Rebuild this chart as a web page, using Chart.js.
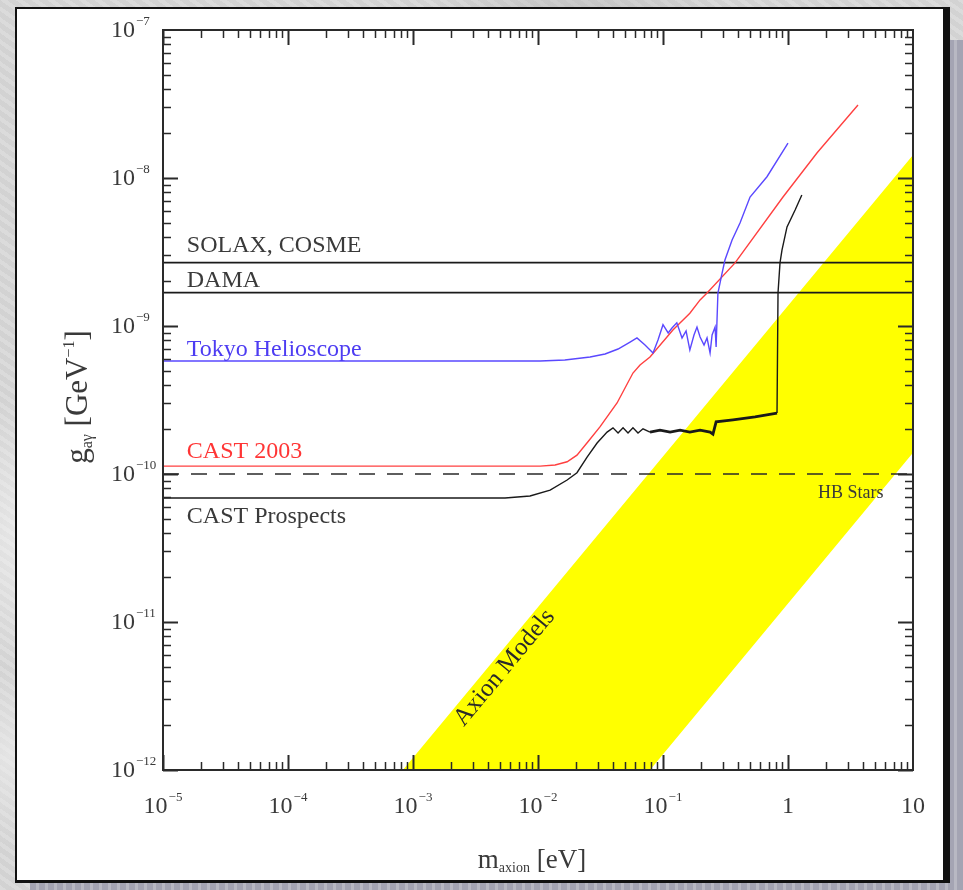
<!DOCTYPE html>
<html>
<head>
<meta charset="utf-8">
<title>Axion-photon coupling limits</title>
<script src="https://cdn.jsdelivr.net/npm/chart.js@4.4.1/dist/chart.umd.min.js"></script>
<style>
  html, body { margin: 0; padding: 0; }
  body {
    width: 963px; height: 890px; position: relative; overflow: hidden;
    background-color: #d6d6d6;
    background-image:
      radial-gradient(ellipse 120px 60px at 15% 20%, rgba(255,255,255,0.55), rgba(255,255,255,0)),
      radial-gradient(ellipse 90px 140px at 3% 60%, rgba(255,255,255,0.5), rgba(255,255,255,0)),
      radial-gradient(ellipse 60px 90px at 1% 85%, rgba(240,240,240,0.6), rgba(240,240,240,0)),
      radial-gradient(ellipse 160px 50px at 60% 2%, rgba(170,170,170,0.45), rgba(170,170,170,0)),
      repeating-linear-gradient(35deg, rgba(255,255,255,0.12) 0 4px, rgba(170,170,170,0.08) 4px 9px);
  }
  #shadow {
    position: absolute; left: 30px; top: 40px; width: 933px; height: 850px;
    background: repeating-linear-gradient(90deg, #a4a4b3 0 6px, #b8b8c3 6px 9px);
  }
  #panel {
    position: absolute; left: 15px; top: 7px; width: 926px; height: 871px;
    background: #fff; border-style: solid; border-color: #111;
    border-width: 2px 7px 3px 2px;
  }
  #chart { position: absolute; left: 0; top: 0; }
</style>
</head>
<body>
<div id="shadow"></div>
<div id="panel"></div>
<canvas id="chart" width="963" height="890"></canvas>
<script>
// axis ticks
const massTicks = [1e-5, 1e-4, 1e-3, 1e-2, 1e-1, 1, 10]
const massTickBase = ['10', '10', '10', '10', '10', '1', '10']
const massTickExp = ['\u22125', '\u22124', '\u22123', '\u22122', '\u22121', '', '']
const couplingTicks = [1e-7, 1e-8, 1e-9, 1e-10, 1e-11, 1e-12]
const couplingTickExp = ['\u22127', '\u22128', '\u22129', '\u221210', '\u221211', '\u221212']

// flat limits (GeV^-1)
const solaxCoupling = 2.68e-9
const damaCoupling = 1.68e-9
const hbStarsCoupling = 1.0e-10

// Tokyo Helioscope
const tokyoMass = [1e-5, 0.0104, 0.0164, 0.0261, 0.0344, 0.0437, 0.0545, 0.0619, 0.0718, 0.0832,
  0.0912, 0.100, 0.110, 0.118, 0.129, 0.142, 0.153, 0.164, 0.177, 0.187,
  0.198, 0.213, 0.225, 0.238, 0.247, 0.261, 0.266, 0.275, 0.297, 0.313,
  0.357, 0.413, 0.497, 0.679, 1.0]
const tokyoCoupling = [5.80e-10, 5.80e-10, 5.89e-10, 6.17e-10, 6.47e-10, 6.99e-10, 7.79e-10, 8.30e-10, 7.44e-10, 6.57e-10,
  8.04e-10, 1.02e-9, 8.97e-10, 9.69e-10, 1.05e-9, 8.30e-10, 9.25e-10, 6.88e-10, 8.69e-10, 9.84e-10,
  8.43e-10, 7.44e-10, 8.30e-10, 6.57e-10, 8.69e-10, 9.84e-10, 7.21e-10, 1.67e-9, 2.28e-9, 2.79e-9,
  3.81e-9, 4.96e-9, 7.44e-9, 1.02e-8, 1.72e-8]

// CAST 2003
const cast2003Mass = [1e-5, 0.0104, 0.0137, 0.0171, 0.0205, 0.0251, 0.0313, 0.0429, 0.0575, 0.0655,
  0.0787, 0.120, 0.164, 0.198, 0.225, 0.377, 0.912, 1.71, 3.63]
const cast2003Coupling = [1.13e-10, 1.13e-10, 1.15e-10, 1.21e-10, 1.34e-10, 1.65e-10, 2.08e-10, 3.02e-10, 4.81e-10, 5.45e-10,
  6.17e-10, 9.40e-10, 1.22e-9, 1.50e-9, 1.67e-9, 2.67e-9, 7.44e-9, 1.48e-8, 3.11e-8]

// CAST prospects
const prospectsMass = [1e-5, 0.00545, 0.00863, 0.0125, 0.0171, 0.0205, 0.0247, 0.0297, 0.0357, 0.0398,
  0.0437, 0.0479, 0.0525, 0.0575, 0.0631, 0.0692, 0.0787, 0.0946, 0.114, 0.137,
  0.164, 0.198, 0.238, 0.251, 0.266, 0.363, 0.545, 0.817, 0.832, 0.863,
  0.895, 0.982, 1.14, 1.29]
const prospectsCoupling = [6.88e-11, 6.88e-11, 7.10e-11, 7.79e-11, 9.11e-11, 1.02e-10, 1.30e-10, 1.62e-10, 1.92e-10, 2.05e-10,
  1.89e-10, 2.05e-10, 1.89e-10, 2.05e-10, 1.89e-10, 2.02e-10, 1.92e-10, 1.98e-10, 1.92e-10, 1.98e-10,
  1.92e-10, 1.98e-10, 1.92e-10, 1.86e-10, 2.25e-10, 2.32e-10, 2.43e-10, 2.58e-10, 1.67e-9, 2.67e-9,
  3.26e-9, 4.67e-9, 6.08e-9, 7.68e-9]

// axion models band edges
const axionUpperMass = [8.3e-4, 10]
const axionUpperCoupling = [1e-12, 1.43e-8]
const axionLowerMass = [0.0787, 10]
const axionLowerCoupling = [1e-12, 1.39e-10]

const pts = (xs, ys) => xs.map((m, i) => ({ x: m, y: ys[i] }))
const flat = g => [{ x: 1e-5, y: g }, { x: 10, y: g }]

const bandPoly = pts(axionUpperMass, axionUpperCoupling)
  .concat(pts(axionLowerMass, axionLowerCoupling).reverse())
bandPoly.push(bandPoly[0])

const SERIF = '"Liberation Serif", "Times New Roman", serif'
const TEXT = '#3a3a3a'

// text notes placed in data coordinates
const notes = [
  { text: 'SOLAX, COSME', x: 1.55e-5, y: 3.16e-9, color: TEXT, size: 24 },
  { text: 'DAMA', x: 1.55e-5, y: 1.84e-9, color: TEXT, size: 24 },
  { text: 'Tokyo Helioscope', x: 1.55e-5, y: 6.27e-10, color: '#4d3cf2', size: 24 },
  { text: 'CAST 2003', x: 1.55e-5, y: 1.28e-10, color: '#ff3535', size: 24 },
  { text: 'CAST Prospects', x: 1.55e-5, y: 4.66e-11, color: TEXT, size: 24 },
  { text: 'HB Stars', x: 1.74, y: 6.88e-11, color: TEXT, size: 18 }
]

function drawPower(ctx, base, exp, x, y, align) {
  ctx.font = '24px ' + SERIF
  const wb = ctx.measureText(base).width
  ctx.font = '13px ' + SERIF
  const we = exp ? ctx.measureText(exp).width + 1 : 0
  const left = align === 'center' ? x - (wb + we) / 2 : x
  ctx.textAlign = 'left'
  ctx.textBaseline = 'middle'
  ctx.font = '24px ' + SERIF
  ctx.fillText(base, left, y)
  if (exp) {
    ctx.font = '13px ' + SERIF
    ctx.fillText(exp, left + wb + 1, y - 9)
  }
}

function drawRuns(ctx, runs, x, y) {
  let total = 0
  runs.forEach(r => {
    ctx.font = r.size + 'px ' + SERIF
    r.w = ctx.measureText(r.t).width
    total += r.w
  })
  let cx = x - total / 2
  ctx.textAlign = 'left'
  ctx.textBaseline = 'alphabetic'
  runs.forEach(r => {
    ctx.font = r.size + 'px ' + SERIF
    ctx.fillText(r.t, cx, y + r.dy)
    cx += r.w
  })
}

const decorations = {
  id: 'decorations',
  afterDatasetsDraw(chart) {
    const { ctx, chartArea: a, scales: { x, y } } = chart
    ctx.save()
    ctx.strokeStyle = '#2a2a2a'
    ctx.fillStyle = TEXT

    // inward ticks on all four sides
    for (let d = -5; d <= 0; d++) {
      for (let k = 1; k <= 9; k++) {
        const v = k * Math.pow(10, d)
        const px = Math.round(x.getPixelForValue(v)) + 0.5
        const len = k === 1 ? 15 : 8
        ctx.lineWidth = k === 1 ? 2 : 1.5
        ctx.beginPath()
        ctx.moveTo(px, a.bottom); ctx.lineTo(px, a.bottom - len)
        ctx.moveTo(px, a.top); ctx.lineTo(px, a.top + len)
        ctx.stroke()
      }
    }
    for (let d = -12; d <= -8; d++) {
      for (let k = 1; k <= 9; k++) {
        const v = k * Math.pow(10, d)
        const py = Math.round(y.getPixelForValue(v)) + 0.5
        const len = k === 1 ? 15 : 8
        ctx.lineWidth = k === 1 ? 2 : 1.5
        ctx.beginPath()
        ctx.moveTo(a.left, py); ctx.lineTo(a.left + len, py)
        ctx.moveTo(a.right, py); ctx.lineTo(a.right - len, py)
        ctx.stroke()
      }
    }
    ctx.lineWidth = 2
    ctx.strokeRect(a.left, a.top, a.right - a.left, a.bottom - a.top)

    // tick labels
    massTicks.forEach((v, i) => {
      drawPower(ctx, massTickBase[i], massTickExp[i], x.getPixelForValue(v), a.bottom + 37, 'center')
    })
    couplingTicks.forEach((v, i) => {
      drawPower(ctx, '10', couplingTickExp[i], a.left - 52, y.getPixelForValue(v) + 1, 'left')
    })

    // axis titles
    drawRuns(ctx, [
      { t: 'm', size: 27, dy: 0 },
      { t: 'axion', size: 14, dy: 4 },
      { t: ' [eV]', size: 27, dy: 0 }
    ], (a.left + a.right) / 2 - 6, a.bottom + 98)

    ctx.save()
    ctx.translate(a.left - 76, (a.top + a.bottom) / 2 - 3)
    ctx.rotate(-Math.PI / 2)
    drawRuns(ctx, [
      { t: 'g', size: 31, dy: 0 },
      { t: 'a\u03b3', size: 16, dy: 5 },
      { t: ' [GeV', size: 31, dy: 0 },
      { t: '\u22121', size: 16, dy: -13 },
      { t: ']', size: 31, dy: 0 }
    ], 0, 0)
    ctx.restore()

    // series notes
    notes.forEach(n => {
      ctx.font = n.size + 'px ' + SERIF
      ctx.fillStyle = n.color
      ctx.textAlign = 'left'
      ctx.textBaseline = 'alphabetic'
      ctx.fillText(n.text, x.getPixelForValue(n.x), y.getPixelForValue(n.y))
    })

    // rotated band label, aligned with the upper band edge
    const x0 = x.getPixelForValue(axionUpperMass[0]), y0 = y.getPixelForValue(axionUpperCoupling[0])
    const x1 = x.getPixelForValue(axionUpperMass[1]), y1 = y.getPixelForValue(axionUpperCoupling[1])
    ctx.save()
    ctx.translate(x.getPixelForValue(5.4e-3), y.getPixelForValue(4.9e-12))
    ctx.rotate(Math.atan2(y1 - y0, x1 - x0))
    ctx.font = '25px ' + SERIF
    ctx.fillStyle = '#2a2a2a'
    ctx.textAlign = 'center'
    ctx.textBaseline = 'middle'
    ctx.fillText('Axion Models', 0, 0)
    ctx.restore()

    ctx.restore()
  }
}

const lineDefaults = { showLine: true, pointRadius: 0, tension: 0, fill: false }

const config = {
  type: 'scatter',
  data: {
    datasets: [
      Object.assign({}, lineDefaults, {
        label: 'Tokyo Helioscope', data: pts(tokyoMass, tokyoCoupling),
        borderColor: '#5a48ff', borderWidth: 1.4
      }),
      Object.assign({}, lineDefaults, {
        label: 'CAST 2003', data: pts(cast2003Mass, cast2003Coupling),
        borderColor: '#ff4040', borderWidth: 1.4
      }),
      Object.assign({}, lineDefaults, {
        label: 'CAST Prospects', data: pts(prospectsMass, prospectsCoupling),
        borderColor: '#1a1a1a', borderWidth: 1.4,
        segment: {
          borderWidth: c => (c.p0.parsed.x >= 0.0787 && c.p1.parsed.x <= 0.82) ? 2.8 : undefined
        }
      }),
      Object.assign({}, lineDefaults, {
        label: 'SOLAX, COSME', data: flat(solaxCoupling), borderColor: '#1a1a1a', borderWidth: 1.6
      }),
      Object.assign({}, lineDefaults, {
        label: 'DAMA', data: flat(damaCoupling), borderColor: '#1a1a1a', borderWidth: 1.6
      }),
      Object.assign({}, lineDefaults, {
        label: 'HB Stars', data: flat(hbStarsCoupling), borderColor: '#2a2a2a', borderWidth: 1.6,
        borderDash: [16, 12]
      }),
      Object.assign({}, lineDefaults, {
        label: 'Axion Models', data: bandPoly, borderWidth: 0, borderColor: 'rgba(0,0,0,0)',
        backgroundColor: '#ffff00', fill: 'shape', order: 10
      })
    ]
  },
  options: {
    responsive: false,
    devicePixelRatio: 1,
    animation: false,
    layout: { padding: { left: 163, right: 50, top: 30, bottom: 120 } },
    scales: {
      x: { type: 'logarithmic', min: 1e-5, max: 10, display: false },
      y: { type: 'logarithmic', min: 1e-12, max: 1e-7, display: false }
    },
    plugins: {
      legend: { display: false },
      tooltip: { enabled: false }
    }
  },
  plugins: [decorations]
}

const chart = new Chart(document.getElementById('chart'), config)
</script>
</body>
</html>
